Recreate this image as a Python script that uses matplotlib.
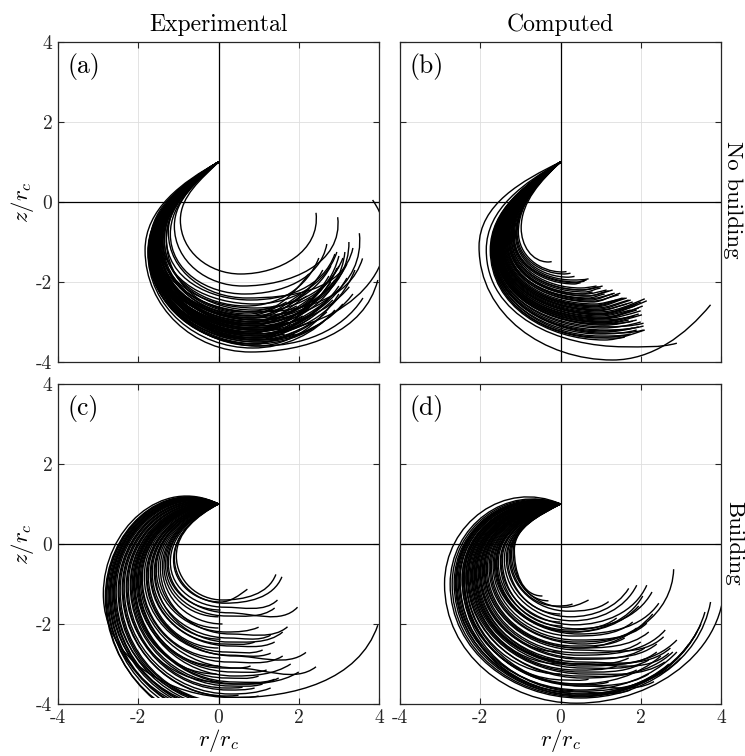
import numpy as np
import matplotlib
matplotlib.use("Agg")
import matplotlib.pyplot as plt
from matplotlib.path import Path
from matplotlib.patches import PathPatch, Rectangle

plt.rcParams["font.family"] = "cmr10"
plt.rcParams["mathtext.fontset"] = "cm"
plt.rcParams["axes.formatter.use_mathtext"] = True

nan = np.nan
ticks = [-4, -2, 0, 2, 4]
tick_labels = ["-4", "-2", "0", "2", "4"]
start_point = (0.0, 1.0)

# each trajectory: leftmost point, lowest point, end point (nan = stops at lowest point)
# (a) experimental, no building
a_left_r = [-0.95, -1.10, -1.25, -1.70, -1.55, -1.40, -1.45, -1.50, -1.60, -1.35, -1.65, -1.58, -1.62, -1.83, -1.72,
            -1.48, -1.52, -1.66, -1.70, -1.55, -1.60, -1.75, -1.68, -1.58, -1.63, -1.72, -1.45, -1.50, -1.40, -1.30,
            -1.57, -1.65, -1.70, -1.62, -1.52, -1.44, -1.60, -1.55, -1.68, -1.73, -1.50, -1.62, -1.38, -1.66, -1.56,
            -1.64, -1.58, -1.48, -1.70, -1.66, -1.42, -1.54, -1.60, -1.74, -1.68, -1.52, -1.47, -1.61, -1.35, -1.20,
            -1.30, -1.45, -1.55, -1.62, -1.68, -1.72, -1.76, -1.58, -1.50, -1.64]
a_left_z = [-0.45, -0.60, -0.75, -1.00, -0.95, -0.90, -1.00, -1.00, -1.05, -0.95, -1.10, -1.10, -1.15, -1.20, -1.20,
            -1.05, -1.10, -1.15, -1.20, -1.10, -1.15, -1.25, -1.20, -1.15, -1.20, -1.25, -1.05, -1.10, -1.00, -0.95,
            -1.15, -1.20, -1.20, -1.15, -1.10, -1.05, -1.10, -1.05, -1.15, -1.20, -1.10, -1.10, -1.00, -1.15, -1.10,
            -1.10, -1.08, -1.02, -1.18, -1.15, -1.00, -1.08, -1.12, -1.22, -1.18, -1.05, -1.03, -1.12, -0.95, -0.80,
            -0.90, -1.00, -1.05, -1.12, -1.18, -1.22, -1.25, -1.10, -1.05, -1.15]
a_bot_r = [0.55, 0.60, 0.70, 1.20, 1.00, 0.90, 0.90, 0.95, 1.00, 0.85, 1.05, 1.00, 1.05, 0.80, 1.00,
           0.85, 0.90, 0.95, 1.00, 0.80, 0.85, 0.90, 0.95, 0.75, 0.80, 0.85, 0.70, 0.75, 0.70, 0.60,
           0.85, 0.95, 1.00, 0.90, 0.85, 0.80, 0.90, 0.95, 1.10, 1.10, 0.80, 0.90, 0.75, 1.00, 0.80,
           0.95, 0.90, 0.85, 1.00, 0.95, 0.80, 0.90, 0.95, 1.05, 1.00, 0.85, 0.80, 0.90, 0.70, 0.65,
           0.80, 0.85, 0.90, 0.95, 1.00, 0.90, 0.85, 0.85, 0.80, 0.95]
a_bot_z = [-1.80, -2.10, -2.40, -3.20, -2.95, -2.55, -2.65, -2.75, -2.85, -2.70, -3.00, -3.05, -3.10, -3.75, -3.40,
           -2.90, -3.00, -3.20, -3.35, -3.10, -3.25, -3.45, -3.50, -3.30, -3.40, -3.55, -3.05, -3.15, -2.85, -2.75,
           -3.35, -3.60, -3.55, -3.45, -3.20, -3.00, -3.10, -2.95, -3.30, -3.45, -3.25, -3.15, -2.80, -3.40, -3.30,
           -3.25, -3.15, -2.95, -3.50, -3.40, -2.85, -3.05, -3.30, -3.60, -3.45, -3.00, -2.90, -3.20, -2.60, -2.30,
           -2.45, -2.75, -2.90, -3.15, -3.35, -3.55, -3.65, -3.20, -3.05, -3.30]
a_end_r = [2.43, 2.97, 3.35, 3.84, 3.51, 2.95, 3.10, 3.59, 3.20, 2.80, 3.05, 2.90, 3.26, 3.97, 2.55,
           2.40, 2.20, 2.60, 2.85, 1.90, 2.10, 2.30, 2.70, 1.60, 1.80, 2.00, 1.50, 1.30, 1.70, 1.40,
           2.50, 3.00, 1.20, 2.35, 2.65, 2.75, 3.15, 3.00, 3.40, 3.35, 2.05, 2.45, 2.25, 1.65, 1.05,
           2.80, 2.95, 3.25, 3.10, 2.15, 2.60, 2.30, 2.75, 3.60, 1.90, 1.95, 2.05, 1.45, 2.50, 2.70,
           2.90, 3.00, 2.70, 3.20, 2.40, 2.60, 2.90, 1.75, 2.35, 3.00]
a_end_z = [-0.27, -0.38, -1.15, 0.05, -0.78, -1.25, -1.40, -1.41, -1.55, -1.60, -1.75, -1.95, -2.12, -1.95, -2.20,
           -2.00, -2.35, -2.55, -2.45, -2.70, -2.85, -2.90, -2.75, -3.05, -3.15, -3.20, -2.80, -3.00, -2.50, -2.60,
           -2.65, -2.30, -3.50, -3.00, -2.05, -1.85, -1.25, -1.35, -1.70, -2.30, -2.95, -2.45, -1.80, -3.30, -3.25,
           -2.00, -1.65, -1.00, -2.55, -3.05, -1.70, -2.40, -2.40, -2.40, -3.30, -2.60, -2.30, -3.15, -1.40, -1.05,
           -1.30, -1.60, -2.20, -1.90, -2.80, -3.00, -2.70, -3.00, -2.55, -2.10]

# (b) computed, no building
b_left_r = [-0.98, -1.05, -1.10, -1.15, -1.20, -1.25, -1.30, -1.32, -1.35, -1.40, -1.42, -1.45, -1.48, -1.50, -1.52,
            -1.55, -1.57, -1.60, -1.62, -1.64, -1.66, -1.68, -1.70, -1.72, -1.85, -2.03, -1.35, -1.38, -1.46, -1.53,
            -1.58, -1.63, -1.27, -1.18, -1.69, -1.75, -1.40, -1.44, -1.50, -1.54, -1.59, -1.61, -1.65, -1.67, -1.71,
            -1.30, -1.22, -1.12, -1.47, -1.56, -1.08, -1.17, -1.23, -1.28, -1.33, -1.37, -1.43, -1.51, -1.60, -1.73]
b_left_z = [-0.65, -0.75, -0.80, -0.85, -0.85, -0.90, -0.90, -0.95, -0.95, -1.00, -1.00, -1.00, -1.05, -1.05, -1.05,
            -1.10, -1.10, -1.10, -1.10, -1.15, -1.15, -1.15, -1.15, -1.20, -1.20, -1.12, -0.95, -0.98, -1.02, -1.08,
            -1.10, -1.12, -0.90, -0.85, -1.15, -1.20, -0.98, -1.00, -1.05, -1.08, -1.10, -1.10, -1.12, -1.15, -1.18,
            -0.92, -0.88, -0.82, -1.03, -1.08, -0.78, -0.84, -0.88, -0.90, -0.94, -0.96, -1.00, -1.05, -1.10, -1.18]
b_bot_r = [-0.30, 0.05, 0.20, 0.40, 0.50, 0.60, 0.70, 0.75, 0.80, 0.85, 0.90, 0.95, 1.00, 1.00, 1.05,
           1.05, 1.10, 1.10, 1.10, 1.10, 1.10, 1.10, 1.00, 1.00, 1.60, 1.30, 0.70, 0.85, 0.95, 1.00,
           1.05, 1.05, 0.55, 0.35, 1.05, 1.10, 0.85, 0.90, 0.95, 1.00, 1.05, 1.05, 1.05, 1.00, 1.00,
           0.65, 0.55, 0.30, 0.95, 1.00, 0.10, 0.38, 0.52, 0.62, 0.72, 0.78, 0.88, 0.98, 1.02, 1.00]
b_bot_z = [-1.50, -1.75, -1.88, -2.00, -2.15, -2.25, -2.35, -2.45, -2.50, -2.58, -2.65, -2.70, -2.78, -2.82, -2.88,
           -2.92, -2.98, -3.02, -3.08, -3.12, -3.20, -3.28, -3.35, -3.40, -3.62, -3.95, -2.40, -2.55, -2.72, -2.85,
           -2.95, -3.05, -2.30, -2.05, -3.25, -3.45, -2.60, -2.68, -2.80, -2.90, -3.00, -3.05, -3.15, -3.22, -3.30,
           -2.35, -2.20, -1.95, -2.75, -2.92, -1.80, -2.02, -2.20, -2.30, -2.42, -2.48, -2.62, -2.80, -3.00, -3.38]
b_end_r = [-0.22, 0.15, 0.35, 0.65, 0.90, 1.00, 1.20, 1.35, 1.49, 1.55, 1.70, 1.80, 1.90, 2.15, 1.95,
           2.00, 1.85, 2.03, 1.90, 2.07, 2.07, 2.07, 1.75, 1.60, 2.90, 3.74, 1.10, 1.40, 1.65, 1.75,
           1.70, 1.80, 0.80, 0.50, 1.95, 2.10, 1.60, 1.75, 1.85, 1.90, 1.95, 1.70, 2.00, 1.80, 1.90,
           1.30, 1.05, 0.70, 2.10, 2.05, 0.25, 0.60, 0.95, 1.15, 1.30, 1.45, 1.65, 2.00, 1.55, 1.70]
b_end_z = [-1.49, -1.74, -1.86, -1.95, -2.10, -2.15, -2.22, -2.28, -2.28, -2.40, -2.45, -2.50, -2.55, -2.47, -2.65,
           -2.72, -2.85, -2.82, -2.95, -3.03, -3.10, -3.20, -3.30, -3.38, -3.53, -2.57, -2.30, -2.45, -2.55, -2.70,
           -2.88, -2.98, -2.25, -2.02, -3.12, -3.20, -2.40, -2.45, -2.60, -2.70, -2.80, -2.95, -3.00, -3.15, -3.20,
           -2.20, -2.10, -1.92, -2.42, -2.60, -1.78, -1.98, -2.12, -2.20, -2.30, -2.32, -2.40, -2.50, -2.92, -3.32]

# (c) experimental, building
c_left_r = [-1.05, -1.10, -1.12, -1.20, -1.25, -1.32, -1.36, -1.45, -1.50, -1.55, -1.60, -1.65, -1.70, -1.75, -1.80,
            -1.85, -1.90, -1.95, -2.00, -2.05, -2.10, -2.15, -2.20, -2.25, -2.30, -2.35, -2.40, -2.87, -2.45, -2.50,
            -2.55, -2.60, -2.65, -2.70, -2.75, -2.80, -2.58, -2.68, -2.78, -1.58, -2.02, -2.12, -1.40, -1.68, -1.78,
            -1.92, -1.98, -2.08, -2.18, -2.28, -2.38, -2.48, -2.62, -2.72, -2.82, -1.28]
c_left_z = [-0.30, -0.35, -0.40, -0.45, -0.48, -0.52, -0.55, -0.60, -0.62, -0.65, -0.70, -0.72, -0.75, -0.78, -0.80,
            -0.82, -0.85, -0.88, -0.90, -0.92, -0.95, -1.00, -1.02, -1.05, -1.08, -1.10, -1.12, -1.25, -1.15, -1.18,
            -1.20, -1.22, -1.25, -1.28, -1.30, -1.32, -1.20, -1.26, -1.30, -0.68, -0.92, -0.98, -0.58, -0.74, -0.80,
            -0.86, -0.90, -0.95, -1.00, -1.06, -1.10, -1.16, -1.22, -1.28, -1.32, -0.50]
c_bot_r = [0.10, 0.15, 0.05, 0.15, 0.25, 0.20, 0.00, 0.30, 0.00, 0.20, 0.25, 0.05, 0.30, 0.00, 0.40,
           0.30, 0.05, 0.45, 0.00, 0.35, 0.40, -0.05, 0.30, 0.20, 0.00, 0.30, 0.35, 0.38, 0.30, 0.30,
           0.35, 0.35, 0.40, 0.40, 0.45, 0.50, 0.30, 0.40, 0.45, 0.25, 0.40, 0.50, 0.10, 0.15, 0.20,
           0.25, 0.10, 0.20, 0.30, 0.25, 0.20, 0.30, 0.35, 0.40, 0.50, 0.05]
c_bot_z = [-1.40, -1.48, -1.45, -1.58, -1.72, -1.80, -1.82, -2.25, -2.10, -2.20, -2.35, -2.38, -2.55, -2.60, -2.80,
           -2.78, -2.85, -3.10, -3.05, -3.20, -3.45, -3.25, -3.55, -3.60, -3.45, -3.75, -3.83, -3.84, -3.98, -4.05,
           -4.12, -4.20, -4.28, -4.38, -4.50, -4.65, -4.00, -4.15, -4.30, -2.45, -3.30, -3.50, -2.00, -2.50, -2.70,
           -2.95, -3.10, -3.35, -3.50, -3.65, -3.80, -4.00, -4.22, -4.40, -4.60, -1.65]
c_end_r = [1.43, 1.58, 0.72, 1.47, 1.97, 1.40, nan, 1.72, nan, 1.00, 1.30, nan, 1.40, nan, 2.18,
           1.30, nan, 2.43, nan, 1.20, 1.40, nan, 1.10, 0.60, nan, 1.30, 1.00, 3.97, nan, nan,
           nan, nan, nan, nan, nan, nan, nan, nan, nan, 1.60, 1.80, 2.00, nan, 0.90, 1.10,
           1.60, 0.80, 1.00, 1.50, 0.90, 0.50, nan, nan, nan, nan, nan]
c_end_z = [-0.76, -0.82, -1.13, -1.40, -1.58, -1.60, nan, -2.07, nan, -2.08, -2.28, nan, -2.45, nan, -2.71,
           -2.73, nan, -3.07, nan, -3.15, -3.38, nan, -3.50, -3.58, nan, -3.60, -3.80, -2.03, nan, nan,
           nan, nan, nan, nan, nan, nan, nan, nan, nan, -2.20, -3.00, -3.20, nan, -2.45, -2.65,
           -2.80, -3.05, -3.30, -3.35, -3.60, -3.78, nan, nan, nan, nan, nan]

# (d) computed, building
d_left_r = [-1.15, -1.18, -1.22, -1.28, -1.35, -1.40, -1.48, -1.55, -1.62, -1.78, -1.32, -1.45, -1.58, -1.68, -1.72,
            -1.82, -1.88, -1.92, -1.98, -2.02, -2.08, -2.12, -2.18, -2.22, -2.28, -2.32, -2.36, -2.40, -2.45, -2.50,
            -2.55, -2.60, -2.65, -2.70, -2.75, -2.89, -2.20, -2.35, -1.95, -2.05, -2.15, -1.65, -1.90, -2.45, -2.58,
            -1.50, -1.75, -1.85, -2.00, -2.10, -2.25, -2.30, -2.42, -2.52, -2.62, -2.15, -2.40, -1.60, -1.25]
d_left_z = [-0.15, -0.20, -0.25, -0.30, -0.35, -0.38, -0.42, -0.46, -0.50, -0.58, -0.32, -0.40, -0.48, -0.52, -0.55,
            -0.60, -0.62, -0.65, -0.68, -0.70, -0.72, -0.74, -0.76, -0.78, -0.80, -0.82, -0.84, -0.86, -0.88, -0.90,
            -0.92, -0.95, -0.98, -1.00, -1.00, -1.00, -0.76, -0.84, -0.66, -0.70, -0.75, -0.50, -0.62, -0.88, -0.94,
            -0.44, -0.56, -0.61, -0.69, -0.73, -0.79, -0.81, -0.87, -0.91, -0.96, -0.75, -0.86, -0.48, -0.28]
d_bot_r = [-0.45, -0.30, 0.10, 0.20, 0.25, 0.30, 0.35, 0.40, 0.45, 0.55, 0.00, 0.00, 0.20, 0.30, 0.40,
           0.35, 0.45, 0.40, 0.50, 0.00, 0.50, 0.40, 0.55, 0.40, 0.60, 0.45, 0.60, 0.30, 0.50, 0.25,
           0.55, 0.50, 0.55, 0.50, 0.50, 0.40, 0.00, 0.00, 0.45, 0.50, 0.55, 0.35, 0.45, 0.45, 0.50,
           0.05, 0.40, 0.45, 0.50, 0.45, 0.50, 0.55, 0.50, 0.55, 0.55, 0.05, 0.10, 0.30, -0.10]
d_bot_z = [-1.30, -1.42, -1.58, -1.68, -1.82, -1.92, -2.02, -2.12, -2.25, -2.50, -1.75, -1.95, -2.15, -2.30, -2.40,
           -2.55, -2.65, -2.72, -2.85, -2.70, -2.95, -3.00, -3.10, -3.15, -3.25, -3.30, -3.55, -3.50, -3.70, -3.70,
           -3.75, -3.78, -3.80, -3.82, -3.85, -3.98, -3.00, -3.25, -2.78, -3.00, -3.05, -2.20, -2.60, -3.50, -3.65,
           -2.05, -2.45, -2.60, -2.88, -3.00, -3.20, -3.35, -3.55, -3.68, -3.75, -2.90, -3.40, -2.20, -1.55]
d_end_r = [nan, nan, 0.70, 1.20, 1.70, 1.90, 2.15, 2.28, 2.45, 2.82, nan, nan, 1.40, 1.80, 2.15,
           1.60, 2.57, 2.00, 2.40, nan, 2.74, 1.70, 2.20, 1.40, 2.60, 1.90, 2.33, 1.20, 1.74, nan,
           2.70, 3.20, 3.40, 3.60, 3.74, 4.05, nan, nan, 2.61, 2.70, 2.90, 1.95, 2.30, 2.50, 2.90,
           nan, 1.90, 2.20, 2.10, 2.40, 2.00, 2.80, 2.20, 3.00, 3.50, nan, 0.70, 2.05, 0.30]
d_end_z = [nan, nan, -1.40, -1.44, -1.11, -1.03, -1.03, -1.20, -1.48, -0.63, nan, nan, -1.85, -1.95, -1.98,
           -2.35, -2.32, -2.45, -2.50, nan, -2.60, -2.85, -2.90, -3.05, -2.95, -3.15, -3.44, -3.45, -3.65, nan,
           -3.00, -2.50, -2.20, -1.70, -1.45, -0.55, nan, nan, -2.15, -2.73, -2.40, -1.55, -1.75, -2.80, -2.70,
           nan, -2.10, -2.20, -2.60, -2.70, -3.00, -2.70, -3.25, -2.85, -2.00, nan, -3.38, -1.30, -1.50]

panels = [
    ("(a)", (a_left_r, a_left_z, a_bot_r, a_bot_z, a_end_r, a_end_z), (-1.485, -0.51), None),
    ("(b)", (b_left_r, b_left_z, b_bot_r, b_bot_z, b_end_r, b_end_z), (-1.40, -0.45), None),
    ("(c)", (c_left_r, c_left_z, c_bot_r, c_bot_z, c_end_r, c_end_z), (-1.162, -0.583), -3.86),
    ("(d)", (d_left_r, d_left_z, d_bot_r, d_bot_z, d_end_r, d_end_z), (-1.211, -0.575), None),
]


def unit(v):
    v = np.asarray(v, dtype=float)
    return v / np.hypot(v[0], v[1])


def arc_seg(p0, t0, p1, t1):
    # cubic bezier between two points with given unit tangents (circle-like handles)
    chord = np.hypot(*(p1 - p0))
    ang = np.arccos(np.clip(np.dot(t0, t1), -1, 1))
    k = 1 / 3 if ang < 1e-3 else 4 / 3 * np.tan(ang / 4) / (2 * np.sin(ang / 2))
    h = k * chord
    return [p0 + h * t0, p1 - h * t1, p1]


def trajectory(lr, lz, br, bz, er, ez, sdir):
    S = np.array(start_point)
    L = np.array([lr, lz])
    B = np.array([br, bz])
    down = np.array([0.0, -1.0])
    right = np.array([1.0, 0.0])
    verts = [S]
    verts += arc_seg(S, unit([-1.0, sdir[0] + sdir[1] * lr]), L, down)
    verts += arc_seg(L, down, B, right)
    if not np.isnan(er):
        E = np.array([er, ez])
        a = max(br - lr, 0.1)
        b = max(lz - bz, 0.1)
        tE = unit([-(ez - lz) * a / b, (er - br) * b / a])
        verts += arc_seg(B, right, E, tE)
    codes = [Path.MOVETO] + [Path.CURVE4] * (len(verts) - 1)
    return Path(verts, codes)


fig = plt.figure(figsize=(7.45, 7.56), dpi=100)
boxes = [(58, 42), (400, 42), (58, 384), (400, 384)]
W, H = 745.0, 756.0

for i, (label, cols, sdir, clip_z) in enumerate(panels):
    x0, y0 = boxes[i]
    ax = fig.add_axes([x0 / W, 1 - (y0 + 320) / H, 321 / W, 320 / H])
    ax.set_xlim(-4, 4)
    ax.set_ylim(-4, 4)
    ax.set_xticks(ticks)
    ax.set_yticks(ticks)
    ax.grid(True, color="#dedede", lw=0.6)
    ax.set_axisbelow(True)
    ax.axhline(0, color="black", lw=0.9, zorder=1.5)
    ax.axvline(0, color="black", lw=0.9, zorder=1.5)
    ax.tick_params(direction="in", top=True, right=True, length=4, width=0.8,
                   labelsize=14, pad=4, colors="#262626")
    for sp in ax.spines.values():
        sp.set_linewidth(0.9)
        sp.set_color("#262626")

    for lr, lz, br, bz, er, ez in zip(*cols, strict=True):
        patch = PathPatch(trajectory(lr, lz, br, bz, er, ez, sdir), fill=False,
                          edgecolor="black", lw=1.0, zorder=2)
        ax.add_patch(patch)
        if clip_z is not None:
            patch.set_clip_path(Rectangle((-4, clip_z), 8, 8, transform=ax.transData))

    ax.text(0.03, 0.965, label, transform=ax.transAxes, ha="left", va="top", fontsize=18.5)

    if i in (2, 3):
        ax.set_xticklabels(tick_labels)
        ax.set_xlabel(r"$r/r_c$", fontsize=16.5)
        ax.xaxis.set_label_coords(0.5, -0.072)
    else:
        ax.set_xticklabels([])
    if i in (0, 2):
        ax.set_yticklabels(tick_labels)
        ax.set_ylabel(r"$z/r_c$", fontsize=16.5)
        ax.yaxis.set_label_coords(-0.068, 0.5)
    else:
        ax.set_yticklabels([])
    if i == 0:
        ax.set_title("Experimental", fontsize=17, pad=8)
    if i == 1:
        ax.set_title("Computed", fontsize=17, pad=8)

fig.text(733 / W, 1 - 200 / H, "No building", rotation=270, ha="center", va="center", fontsize=16.5)
fig.text(734 / W, 1 - 543 / H, "Building", rotation=270, ha="center", va="center", fontsize=16.5)

fig.savefig("out.png", dpi=100)
